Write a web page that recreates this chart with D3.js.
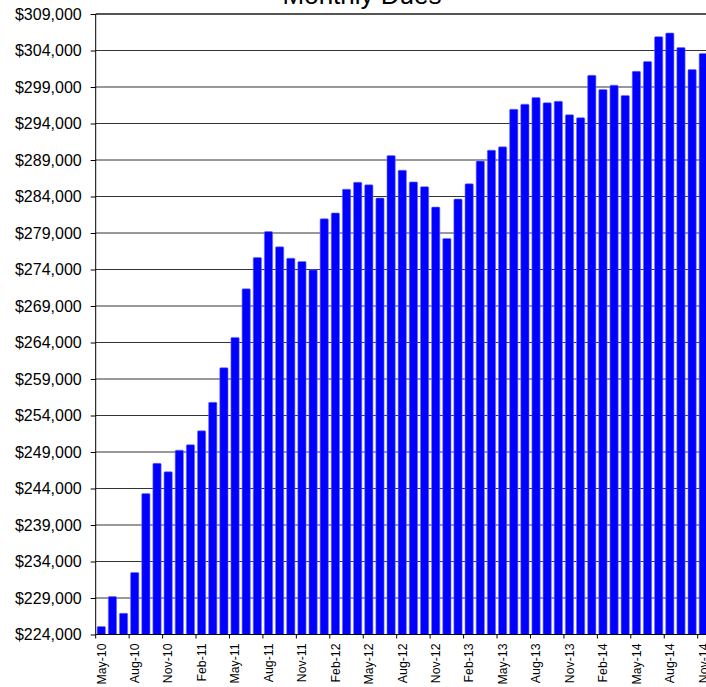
<html>
  <head>
    <title>Monthly Dues</title>
    <script src="https://d3js.org/d3.v7.min.js"></script>
    <style>
      body {
        margin: 0;
        background-color: white;
        font-family: "Liberation Sans", Arial, sans-serif;
      }
      svg {
        display: block;
      }
    </style>
  </head>
  <body>
    <svg width="706" height="687"></svg>

    <script>
      // data
      var months = [
        'May-10', 'Jun-10', 'Jul-10', 'Aug-10', 'Sep-10', 'Oct-10', 'Nov-10', 'Dec-10',
        'Jan-11', 'Feb-11', 'Mar-11', 'Apr-11', 'May-11', 'Jun-11', 'Jul-11', 'Aug-11',
        'Sep-11', 'Oct-11', 'Nov-11', 'Dec-11', 'Jan-12', 'Feb-12', 'Mar-12', 'Apr-12',
        'May-12', 'Jun-12', 'Jul-12', 'Aug-12', 'Sep-12', 'Oct-12', 'Nov-12', 'Dec-12',
        'Jan-13', 'Feb-13', 'Mar-13', 'Apr-13', 'May-13', 'Jun-13', 'Jul-13', 'Aug-13',
        'Sep-13', 'Oct-13', 'Nov-13', 'Dec-13', 'Jan-14', 'Feb-14', 'Mar-14', 'Apr-14',
        'May-14', 'Jun-14', 'Jul-14', 'Aug-14', 'Sep-14', 'Oct-14', 'Nov-14'
      ];

      var dues = [
        225100, 229200, 226900, 232500, 243300, 247450, 246300, 249250,
        250000, 251900, 255800, 260550, 264700, 271350, 275650, 279200,
        277100, 275550, 275100, 273950, 280950, 281750, 285000, 285950,
        285600, 283800, 289600, 287600, 286000, 285350, 282550, 278250,
        283650, 285750, 288850, 290350, 290800, 295950, 296650, 297550,
        296850, 297050, 295200, 294800, 300600, 298650, 299250, 297850,
        301150, 302500, 305900, 306400, 304400, 301400, 303600
      ];

      var yTicks = d3.range(224000, 309001, 5000);
      var title = 'Monthly Dues';

      // layout (don't use "top" - it's window.top)
      var plotLeft = 95.7, plotTop = 14, plotBottom = 634.5;
      var step = 11.148;
      var plotRight = plotLeft + months.length * step;

      var svg = d3.select('svg');

      var x = d3.scaleBand()
        .domain(months)
        .range([plotLeft, plotRight])
        .paddingInner(0.26)
        .paddingOuter(0.13);

      var y = d3.scaleLinear()
        .domain([224000, 309000])
        .range([plotBottom, plotTop]);

      var money = function(d){ return '$' + d3.format(',')(d); };

      // y axis
      var yAxis = svg.append('g')
        .attr('transform', 'translate(' + plotLeft + ',0)')
        .call(d3.axisLeft(y).tickValues(yTicks).tickFormat(money).tickSizeOuter(0).tickSizeInner(5).tickPadding(9));

      yAxis.select('.domain').remove();
      yAxis.selectAll('.tick line').attr('stroke', '#000');
      yAxis.selectAll('.tick text')
        .attr('font-family', '"Liberation Sans", Arial, sans-serif')
        .attr('font-size', 16)
        .attr('fill', '#000');

      // gridlines
      svg.append('g')
        .selectAll('line')
        .data(yTicks)
        .enter().append('line')
          .attr('x1', plotLeft)
          .attr('x2', plotRight)
          .attr('y1', function(d){ return y(d); })
          .attr('y2', function(d){ return y(d); })
          .attr('stroke', function(d){ return d === 309000 ? '#555' : '#333'; })
          .attr('stroke-width', function(d){ return d === 309000 ? 2 : 1; });

      // bars
      svg.append('g')
        .selectAll('rect')
        .data(dues)
        .enter().append('rect')
          .attr('x', function(d, i){ return x(months[i]); })
          .attr('width', x.bandwidth())
          .attr('y', function(d){ return y(d); })
          .attr('height', function(d){ return plotBottom - y(d); })
          .attr('rx', 1)
          .attr('fill', '#0000ff')
          .attr('stroke', '#6f6fff')
          .attr('stroke-width', 0.6);

      // axis lines
      svg.append('line')
        .attr('x1', plotLeft).attr('x2', plotLeft)
        .attr('y1', plotTop).attr('y2', plotBottom)
        .attr('stroke', '#000');

      svg.append('line')
        .attr('x1', plotLeft).attr('x2', plotRight)
        .attr('y1', plotBottom).attr('y2', plotBottom)
        .attr('stroke', '#000');

      // x ticks every 3 months, on the category boundaries
      var labelled = months.filter(function(d, i){ return i % 3 === 0; });

      svg.append('g')
        .selectAll('line')
        .data(labelled)
        .enter().append('line')
          .attr('x1', function(d){ return x(d) - x.step() * 0.13; })
          .attr('x2', function(d){ return x(d) - x.step() * 0.13; })
          .attr('y1', plotBottom)
          .attr('y2', plotBottom + 4)
          .attr('stroke', '#000');

      svg.append('g')
        .selectAll('text')
        .data(labelled)
        .enter().append('text')
          .attr('transform', function(d){
            return 'translate(' + (x(d) + x.bandwidth() / 2) + ',' + (plotBottom + 9) + ') rotate(-90)';
          })
          .attr('dy', '0.35em')
          .attr('text-anchor', 'end')
          .attr('font-size', 12.3)
          .attr('fill', '#000')
          .text(function(d){ return d; });

      // title (cut off at the top like the original)
      svg.append('text')
        .attr('x', 362)
        .attr('y', 4)
        .attr('text-anchor', 'middle')
        .attr('font-size', 26)
        .attr('fill', '#000')
        .text(title);
    </script>
  </body>
</html>
